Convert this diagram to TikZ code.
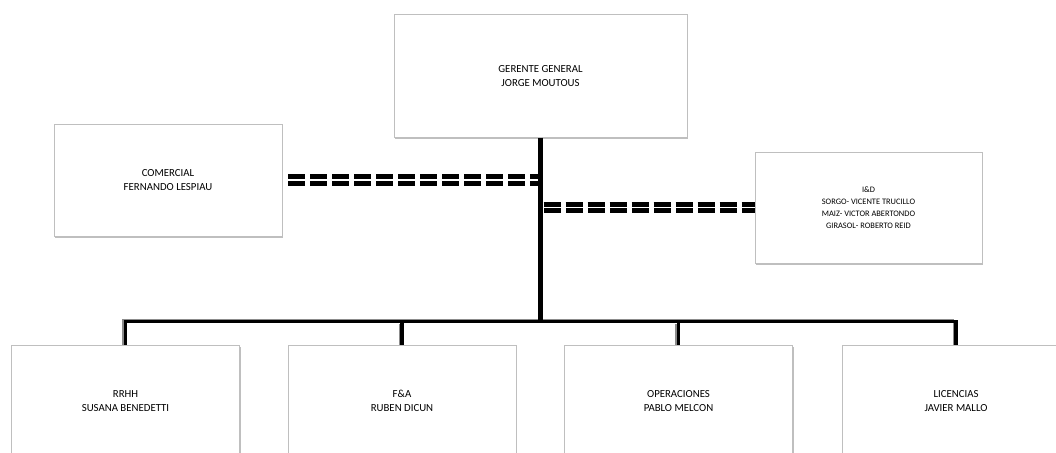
\documentclass[tikz,border=0pt]{standalone}
\usepackage{fontspec}
\setmainfont{Carlito}
\usetikzlibrary{positioning,shadows,calc}

\tikzset{
  cargo/.style={draw=black!25, fill=white, minimum width=228pt, minimum height=112pt,
    align=center, font=\fontsize{10.8}{14}\selectfont,
    drop shadow={shadow xshift=1.2pt, shadow yshift=-1.8pt, opacity=0.5}},
  tronco/.style={line width=4.5pt},
  bus/.style={line width=3.2pt},
  busgris/.style={draw=black!45, line width=1.2pt},
  punteada/.style={double, double distance=1.4pt, line width=5pt, dash pattern=on 17pt off 5pt},
}

\begin{document}
\begin{tikzpicture}[x=1pt,y=-1pt]
    \clip (0,0) rectangle (1056,452);
    % cargos de arriba
    \node[cargo, minimum width=293pt, minimum height=123pt] (gerente) at (540.5,76) {GERENTE GENERAL\\JORGE MOUTOUS};
    \node[cargo] (comercial) at (168,180) {COMERCIAL\\FERNANDO LESPIAU};
    \node[cargo, minimum width=227pt, minimum height=111pt, font=\fontsize{8.4}{12}\selectfont] (id) at (868.5,207.5)
        {I\&D\\SORGO- VICENTE TRUCILLO\\MAIZ- VICTOR ABERTONDO\\GIRASOL- ROBERTO REID};
    % cargos de abajo
    \foreach \x/\name/\texto in {125.5/rrhh/{RRHH\\SUSANA BENEDETTI},402/fa/{F\&A\\RUBEN DICUN},
        678.5/oper/{OPERACIONES\\PABLO MELCON},956/lic/{LICENCIAS\\JAVIER MALLO}}{
        \node[cargo] (\name) at (\x,401) {\texto};}
    \coordinate (bus) at (gerente.south |- 0,322);
    % linea gris al costado del bus
    \draw[busgris] ([xshift=-2.6pt]rrhh.north) -- ++(0,-25.6) -| ([xshift=-2.6pt]lic.north);
    \foreach \name in {fa,oper}{
        \draw[busgris] ([xshift=-2.6pt]\name.north) -- ([xshift=-2.6pt,yshift=-2pt]\name.north |- bus);}
    \draw[bus] (rrhh.north) -- ++(0,-23) -| (lic.north);
    \draw[bus] (fa.north) -- (fa.north |- bus);
    \draw[bus] (oper.north) -- (oper.north |- bus);
    \draw[tronco] (gerente.south) -- (bus);
    \draw[punteada] ([xshift=6pt]comercial.east) -- ([xshift=-3pt]comercial.east -| gerente.south);
    \draw[punteada] ([xshift=3pt]id.west -| gerente.south) -- (id.west);
\end{tikzpicture}
\end{document}
